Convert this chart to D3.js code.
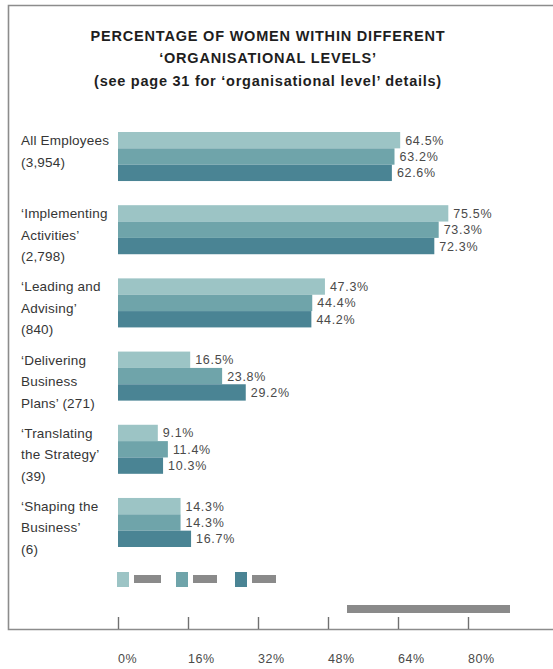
<!DOCTYPE html>
<html>
<head>
<meta charset="utf-8">
<script src="https://cdn.jsdelivr.net/npm/d3@7"></script>
<style>
  body { margin: 0; background: #fff; }
  svg { display: block; font-family: "Liberation Sans", Arial, sans-serif; }
</style>
</head>
<body>
<div id="chart"></div>
<script>
'use strict';

// categories (label lines) and the three series
const categories = ['All Employees', 'Implementing', 'Leading', 'Delivering', 'Translating', 'Shaping'];
const categoryLines = [
  ['All Employees', '(3,954)'],
  ['\u2018Implementing', 'Activities\u2019', '(2,798)'],
  ['\u2018Leading and', 'Advising\u2019', '(840)'],
  ['\u2018Delivering', 'Business', 'Plans\u2019 (271)'],
  ['\u2018Translating', 'the Strategy\u2019', '(39)'],
  ['\u2018Shaping the', 'Business\u2019', '(6)']
];
const series1 = [64.5, 75.5, 47.3, 16.5, 9.1, 14.3];
const series2 = [63.2, 73.3, 44.4, 23.8, 11.4, 14.3];
const series3 = [62.6, 72.3, 44.2, 29.2, 10.3, 16.7];
const seriesColors = ['#9cc4c5', '#6fa4aa', '#4a8494'];
const tickValues = [0, 16, 32, 48, 64, 80];

const w = 553, h = 669;
const svg = d3.select('#chart').append('svg').attr('width', w).attr('height', h);

const x = d3.scaleLinear().domain([0, 80]).range([118, 468]);
const y = d3.scaleBand().domain(categories).range([132, 547]).paddingInner(0.33).paddingOuter(0);
const ySub = d3.scaleBand().domain([0, 1, 2]).range([0, y.bandwidth()]);

// frame
svg.append('path')
  .attr('d', 'M553,5.5H8.5V629.5H553')
  .attr('fill', 'none').attr('stroke', '#8c8c8c').attr('stroke-width', 1.6);

// title
const title = ['PERCENTAGE OF WOMEN WITHIN DIFFERENT', '\u2018ORGANISATIONAL LEVELS\u2019', '(see page 31 for \u2018organisational level\u2019 details)'];
svg.append('g').selectAll('text').data(title).enter().append('text')
  .attr('x', 268).attr('y', function(d, i){ return 40.5 + i * 22.5; })
  .attr('text-anchor', 'middle')
  .attr('font-size', 14.5).attr('font-weight', 'bold').attr('fill', '#1e1e1e')
  .attr('letter-spacing', function(d, i){ return i == 2 ? 0.75 : 0.8; })
  .text(function(d){ return d; });

// bars
const rows = [];
categories.forEach(function(c, i){
  [series1, series2, series3].forEach(function(s, j){
    rows.push({ cat: c, s: j, v: s[i] });
  });
});

const barG = svg.append('g');
barG.selectAll('rect').data(rows).enter().append('rect')
  .attr('x', x(0))
  .attr('y', function(d){ return y(d.cat) + ySub(d.s); })
  .attr('width', function(d){ return x(d.v) - x(0); })
  .attr('height', ySub.bandwidth())
  .attr('fill', function(d){ return seriesColors[d.s]; });

barG.selectAll('text').data(rows).enter().append('text')
  .attr('x', function(d){ return x(d.v) + 5; })
  .attr('y', function(d){ return y(d.cat) + ySub(d.s) + ySub.bandwidth() / 2 + 4.5; })
  .attr('font-size', 12.5).attr('fill', '#4a4a4a').attr('letter-spacing', 0.7)
  .text(function(d){ return d.v.toFixed(1) + '%'; });

// category labels
const labG = svg.append('g');
categories.forEach(function(c, i){
  labG.append('text')
    .attr('x', 21).attr('y', y(c) + 13)
    .attr('font-size', 13.5).attr('fill', '#353535').attr('letter-spacing', 0.2)
    .selectAll('tspan').data(categoryLines[i]).enter().append('tspan')
    .attr('x', 21).attr('dy', function(d, k){ return k == 0 ? 0 : 21.5; })
    .text(function(d){ return d; });
});

// legend (swatches; names are greyed out in the source)
const legendX = [117, 176, 235];
const legG = svg.append('g');
legendX.forEach(function(lx, i){
  legG.append('rect').attr('x', lx).attr('y', 572).attr('width', 12).attr('height', 15).attr('fill', seriesColors[i]);
  legG.append('rect').attr('x', lx + 17).attr('y', 575).attr('width', i == 0 ? 27 : 24).attr('height', 8).attr('fill', '#8a8a8a');
});

// source note (greyed out)
svg.append('rect').attr('x', 347).attr('y', 605).attr('width', 163).attr('height', 8).attr('fill', '#8a8a8a');

// x axis
const xAxis = d3.axisTop(x).tickValues(tickValues).tickSize(12).tickFormat('');
const ax = svg.append('g').attr('transform', 'translate(0,629)').call(xAxis);
ax.select('.domain').remove();
ax.selectAll('line').attr('stroke', '#707070').attr('stroke-width', 1.4);

svg.append('g').selectAll('text').data(tickValues).enter().append('text')
  .attr('x', function(d){ return x(d); })
  .attr('y', 663)
  .attr('font-size', 12.5).attr('fill', '#4a4a4a').attr('letter-spacing', 0.6)
  .text(function(d){ return d + '%'; });
</script>
</body>
</html>
